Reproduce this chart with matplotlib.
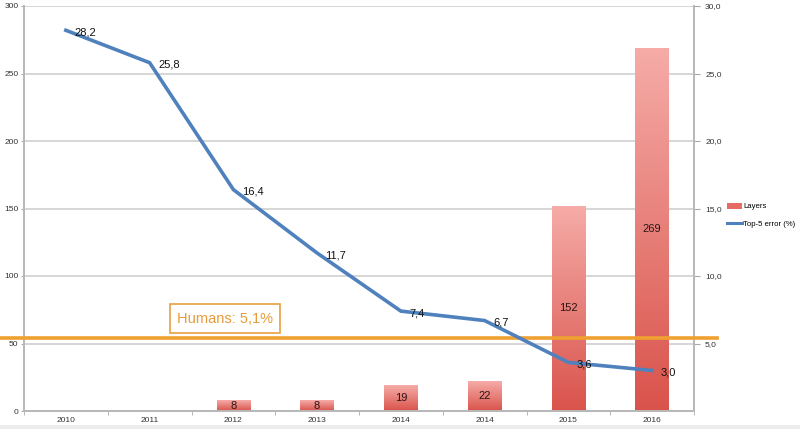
import matplotlib
matplotlib.use("Agg")
import matplotlib.pyplot as plt
import matplotlib.transforms as mtransforms
from matplotlib.colors import LinearSegmentedColormap
from matplotlib.patches import Rectangle
from matplotlib.lines import Line2D
import numpy as np

years = ["2010", "2011", "2012", "2013", "2014", "2014", "2015", "2016"]
layers = [0, 0, 8, 8, 19, 22, 152, 269]
top5_error = [28.2, 25.8, 16.4, 11.7, 7.4, 6.7, 3.6, 3.0]
error_labels = ["28,2", "25,8", "16,4", "11,7", "7,4", "6,7", "3,6", "3,0"]
left_ticks = [0, 50, 100, 150, 200, 250, 300]
right_ticks = [5, 10, 15, 20, 25, 30]
right_tick_labels = ["5,0", "10,0", "15,0", "20,0", "25,0", "30,0"]
human_error = 5.4
human_label = "Humans: 5,1%"

plt.rcParams['font.family'] = ['Liberation Sans', 'DejaVu Sans']
fig = plt.figure(figsize=(8, 4.29), dpi=100)
ax = fig.add_axes([24/800, 18/429, 670/800, 405/429])
ax2 = ax.twinx()

x = np.arange(len(years))
ax.set_xlim(-0.5, len(years) - 0.5)
ax.set_ylim(0, 300)
ax2.set_ylim(0, 30)

grid_c = "#cfcfcf"
for t in left_ticks[1:]:
    ax.axhline(t, color=grid_c, lw=1.2, zorder=0)

cmap = LinearSegmentedColormap.from_list("barg", ["#d9534b", "#f6aca8"])
grad = np.linspace(0, 1, 256).reshape(-1, 1)
bw = 0.4
for xi, v in zip(x, layers):
    if v <= 0:
        continue
    rect = Rectangle((xi - bw/2, 0), bw, v, facecolor="none", edgecolor="none")
    ax.add_patch(rect)
    im = ax.imshow(grad, cmap=cmap, origin="lower", aspect="auto",
                   extent=(xi - bw/2, xi + bw/2, 0, v), zorder=1)
    im.set_clip_path(rect)
    ax.text(xi, v/2, str(v), ha="center", va="center", fontsize=8, color="#2a1515", zorder=3)

ax.set_xlim(-0.5, len(years) - 0.5)
ax.set_ylim(0, 300)

# Humans line (extends beyond axes)
trans = mtransforms.blended_transform_factory(ax2.transAxes, ax2.transData)
ax2.plot([-0.036, 1.034], [human_error, human_error], color="#f0a030", lw=2.6,
         transform=trans, clip_on=False, zorder=4)
ax2.text(0.30, 0.228, human_label, transform=ax.transAxes, fontsize=10.5, color="#e89a3a",
         ha="center", va="center", zorder=5,
         bbox=dict(boxstyle="square,pad=0.5", fc="white", ec="#e8a040", lw=1.2))

ax2.plot(x, top5_error, color="#4f81bd", lw=2.6, zorder=5, solid_joinstyle="miter")
for xi, v, lab in zip(x, top5_error, error_labels):
    ax2.annotate(lab, (xi, v), xytext=(6, -1.5), textcoords="offset points",
                 ha="left", va="center", fontsize=8, color="#111111", zorder=6)

ax.set_yticks(left_ticks)
ax.set_yticklabels([str(t) for t in left_ticks], fontsize=6, color="#333333")
ax2.set_yticks(right_ticks)
ax2.set_yticklabels(right_tick_labels, fontsize=6, color="#333333")
ax.set_xticks(x)
ax.set_xticklabels(years, fontsize=6, color="#333333")
ax.set_xticks(np.arange(-0.5, len(years)), minor=True)
ax.tick_params(axis="x", which="major", length=0, pad=4)
ax.tick_params(axis="x", which="minor", length=3, color="#aaaaaa", direction="out")
ax.tick_params(axis="y", length=2, color="#aaaaaa", pad=2)
ax2.tick_params(axis="y", length=4, color="#aaaaaa", pad=4)

ax.spines["top"].set_visible(False)
ax2.spines["top"].set_visible(False)
for a in (ax, ax2):
    for s in ["left", "right", "bottom"]:
        a.spines[s].set_color("#b8b8b8")
        a.spines[s].set_linewidth(1.3)

# legend
handles = [Rectangle((0, 0), 1, 1, facecolor="#e56b63", edgecolor="none"),
           Line2D([0], [0], color="#4f81bd", lw=2.2)]
fig.legend(handles, ["Layers", "Top-5 error (%)"], loc="upper left",
           bbox_to_anchor=(725/800, 1 - 201/429), frameon=False, fontsize=5.6,
           handlelength=2.0, handleheight=0.8, handletextpad=0.1, labelspacing=1.3,
           borderpad=0.2, borderaxespad=0.0)

fig.patches.append(Rectangle((0, 0), 1, 4/429, transform=fig.transFigure,
                             facecolor="#ececec", edgecolor="none", zorder=0))

fig.savefig("out.png", dpi=100)
